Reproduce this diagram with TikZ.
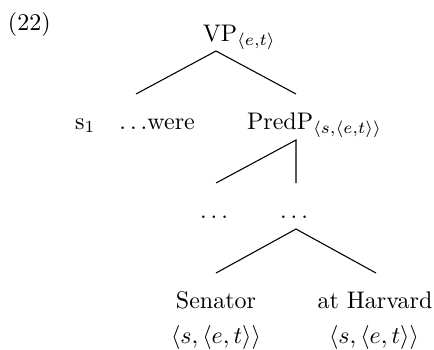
\documentclass[tikz,border=0pt]{standalone}
\begin{document}
\begin{tikzpicture}[x=0.4167pt,y=-0.4167pt,
  lbl/.style={inner sep=0pt,outer sep=0pt,anchor=base},
  branch/.style={line width=0.45pt}]
\useasboundingbox (0,0) rectangle (434,349);
\node[lbl,anchor=base west] (ex) at (8,30) {(22)};
\node[lbl] (vp) at (220,41) {VP\rlap{$_{\langle e,t\rangle}$}};
\node[lbl] (s1) at (135,129) {s$_1$\quad$\ldots$were};
\node[lbl,anchor=base west] (predp) at (247,129) {PredP\rlap{$_{\langle s,\langle e,t\rangle\rangle}$}};
\node[lbl] (d1) at (214,218) {$\ldots$};
\node[lbl] (d2) at (294,218) {$\ldots$};
\node[lbl] (sen) at (216,308) {Senator};
\node[lbl] (harv) at (375,308) {at Harvard};
\node[lbl] (t1) at (216,343) {$\langle s,\langle e,t\rangle\rangle$};
\node[lbl] (t2) at (374,343) {$\langle s,\langle e,t\rangle\rangle$};
\coordinate (vpb) at (216,51);
\coordinate (s1t) at (136,94);
\coordinate (predt) at (296,94);
\coordinate (predb) at (296,140);
\coordinate (d1t) at (216,183);
\coordinate (d2t) at (296,183);
\coordinate (d2b) at (296,229);
\coordinate (sent) at (216,273);
\coordinate (harvt) at (376,273);
\draw[branch] (s1t) -- (vpb) -- (predt);
\draw[branch] (d1t) -- (predb) -- (d2t);
\draw[branch] (sent) -- (d2b) -- (harvt);
\end{tikzpicture}
\end{document}
